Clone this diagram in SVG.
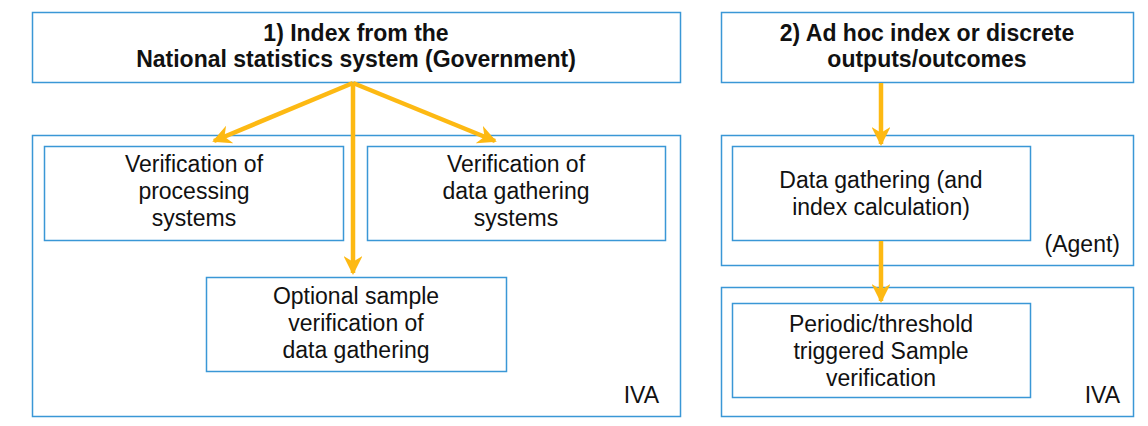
<svg xmlns="http://www.w3.org/2000/svg" width="1148" height="426" viewBox="0 0 1148 426">
<defs>
<marker id="ah" viewBox="0 0 10 10" refX="9" refY="5" markerWidth="4.2" markerHeight="4.2" orient="auto" markerUnits="strokeWidth">
<path d="M0,0 L10,5 L0,10 L3,5 Z" fill="#FDB913"/>
</marker>
<style>
.box{fill:#fff;stroke:#3a97d6;stroke-width:1.5}
.t{font-family:"Liberation Sans",Arial,sans-serif;font-size:23px;fill:#111;text-anchor:middle}
.h{font-weight:bold}
.r{text-anchor:end}
.c{stroke:#FDB913;stroke-width:4.5;fill:none;marker-end:url(#ah)}
</style>
</defs>
<rect width="1148" height="426" fill="#fff"/>
<g id="iva-left"><rect class="box" x="32.5" y="135.5" width="648" height="281"/><text class="t r" x="659" y="403">IVA</text></g>
<g id="agent-right"><rect class="box" x="721.5" y="135.5" width="412" height="130"/><text class="t r" x="1120" y="252">(Agent)</text></g>
<g id="iva-right"><rect class="box" x="721.5" y="287.5" width="412" height="129"/><text class="t r" x="1120" y="403">IVA</text></g>
<g id="n1"><rect class="box" x="32.5" y="12.5" width="648" height="70"/><text class="t h" x="356" y="41">1) Index from the</text><text class="t h" x="356" y="67">National statistics system (Government)</text></g>
<g id="n2"><rect class="box" x="721.5" y="12.5" width="412" height="70"/><text class="t h" x="927" y="41">2) Ad hoc index or discrete</text><text class="t h" x="927" y="67">outputs/outcomes</text></g>
<g id="n3"><rect class="box" x="44.5" y="146.5" width="299" height="94"/><text class="t" x="194" y="172">Verification of</text><text class="t" x="194" y="199">processing</text><text class="t" x="194" y="226">systems</text></g>
<g id="n4"><rect class="box" x="367.5" y="146.5" width="298" height="94"/><text class="t" x="516" y="172">Verification of</text><text class="t" x="516" y="199">data gathering</text><text class="t" x="516" y="226">systems</text></g>
<g id="n5"><rect class="box" x="206.5" y="277.5" width="300" height="94"/><text class="t" x="356" y="304">Optional sample</text><text class="t" x="356" y="331">verification of</text><text class="t" x="356" y="358">data gathering</text></g>
<g id="n6"><rect class="box" x="732.5" y="146.5" width="298" height="94"/><text class="t" x="881" y="188">Data gathering (and</text><text class="t" x="881" y="215">index calculation)</text></g>
<g id="n7"><rect class="box" x="732.5" y="303.5" width="298" height="94"/><text class="t" x="881" y="332">Periodic/threshold</text><text class="t" x="881" y="359">triggered Sample</text><text class="t" x="881" y="386">verification</text></g>
<g id="connectors">
<path class="c" d="M353,83 L214,141"/>
<path class="c" d="M353,83 L495,141"/>
<path class="c" d="M353,83 L353,273"/>
<path class="c" d="M881,83 L881,144"/>
<path class="c" d="M881,241 L881,301"/>
</g>
</svg>
